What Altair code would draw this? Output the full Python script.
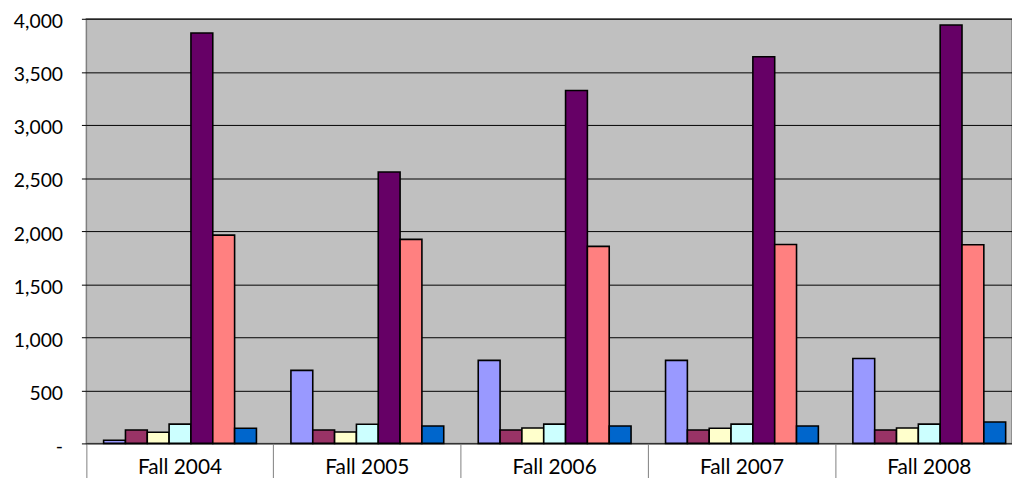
import altair as alt
import pandas as pd

terms = ["Fall 2004", "Fall 2005", "Fall 2006", "Fall 2007", "Fall 2008"]
series = ["Series1", "Series2", "Series3", "Series4", "Series5", "Series6", "Series7"]
colors = ["#9999FF", "#993366", "#FFFFCC", "#CCFFFF", "#660066", "#FF8080", "#0066CC"]

s1 = [30, 688, 782, 782, 800]
s2 = [126, 126, 126, 126, 126]
s3 = [105, 108, 145, 142, 145]
s4 = [182, 180, 182, 182, 182]
s5 = [3866, 2556, 3324, 3642, 3942]
s6 = [1962, 1922, 1856, 1874, 1872]
s7 = [143, 164, 164, 164, 201]

values = [s1, s2, s3, s4, s5, s6, s7]
rows = []
for name, vals in zip(series, values):
    for t, v in zip(terms, vals):
        rows.append({"term": t, "series": name, "value": v})
df = pd.DataFrame(rows)

FONT = "Lato"

chart = alt.Chart(df).mark_bar(stroke="black", strokeWidth=1.6).encode(
    x=alt.X("term:N", sort=terms, title=None,
            scale=alt.Scale(range=[0, 944], paddingInner=0, paddingOuter=0),
            axis=alt.Axis(labelAngle=0, domain=False, ticks=True, bandPosition=0,
                          tickSize=35, tickColor="#808080", tickWidth=1,
                          labelPadding=-21.5, labelFont=FONT, labelFontSize=21,
                          labelColor="#000000", grid=False)),
    xOffset=alt.XOffset("series:N", sort=series,
                        scale=alt.Scale(paddingInner=0, paddingOuter=0.79)),
    y=alt.Y("value:Q", title=None,
            scale=alt.Scale(domain=[0, 4000], nice=False),
            axis=alt.Axis(values=list(range(0, 4001, 500)), domain=False,
                          tickSize=5, tickColor="#000000", labelPadding=19,
                          labelOffset=3,
                          labelFont=FONT, labelFontSize=19.5, labelColor="#000000",
                          labelExpr="datum.value == 0 ? '-' : format(datum.value, ',')",
                          grid=True, gridColor="#000000", gridWidth=1)),
    color=alt.Color("series:N", sort=series,
                    scale=alt.Scale(domain=series, range=colors), legend=None),
).properties(
    width=933,
    height=428,
    title=alt.TitleParams("Ethnicity, Race", font=FONT, fontSize=21, fontWeight="bold",
                          anchor="middle", dx=-95, dy=10, offset=0, baseline="bottom",
                          color="#000000"),
    autosize=alt.AutoSizeParams(type="none"),
    padding={"left": 79, "top": 9, "right": 0, "bottom": 33},
).configure(
    background="#FFFFFF"
).configure_view(
    fill="#C0C0C0", stroke="#808080", strokeWidth=1.5
)

chart.save("out.html", embed_options={"renderer": "svg", "actions": False})
